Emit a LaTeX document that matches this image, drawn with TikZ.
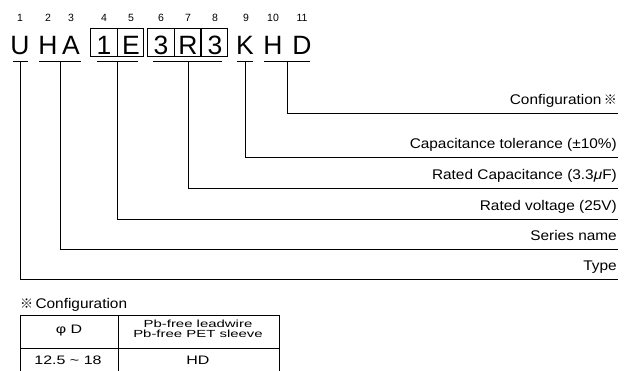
\documentclass[tikz,border=0pt]{standalone}
\usepackage{fontspec}
\setmainfont{Liberation Sans}
\newfontfamily\wideA[FakeStretch=1.1]{Liberation Sans}
\newfontfamily\wideB[FakeStretch=1.3]{Liberation Sans}
\newfontfamily\wideC[FakeStretch=1.45]{Liberation Sans}
\newfontfamily\cjk{Noto Sans CJK JP}
\begin{document}
\begin{tikzpicture}[x=1pt,y=-1pt,
  num/.style={font=\fontsize{10.5}{12}\selectfont, inner sep=0pt},
  big/.style={font=\fontsize{26.5}{30}\selectfont, inner sep=0pt, anchor=base},
  cbox/.style={draw, line width=0.8pt, minimum width=26.5pt, minimum height=28pt, inner sep=0pt},
  lbl/.style={font=\wideA\fontsize{14}{16}\selectfont, inner sep=0pt, anchor=base east},
  pb/.style={font=\wideC\fontsize{10.3}{10}\selectfont, inner sep=0pt, anchor=base},
  cell/.style={font=\wideB\fontsize{12.3}{14}\selectfont, inner sep=0pt},
  ln/.style={line width=1pt},
  tb/.style={line width=0.9pt}]
\useasboundingbox (0,0) rectangle (634,370);
\clip (0,0) rectangle (634,370);
% numbers
\foreach \i/\x in {1/20,2/48,3/71,4/104,5/131,6/161,7/188,8/215,9/246,10/273,11/302}
  \node[num] (n\i) at (\x,18) {\i};
% letters
\node[big] (cU) at (20,54) {U};
\node[big] (cH) at (48,54) {H};
\node[big] (cA) at (71,54) {A};
\node[cbox] (b4) at (104,42) {};
\node[cbox] (b5) at (130.5,42) {};
\node[cbox] (b6) at (161,42) {};
\node[cbox] (b7) at (187.5,42) {};
\node[cbox] (b8) at (214.5,42) {};
\node[big] (c4) at (104,54) {1};
\node[big] (c5) at (131,54) {E};
\node[big] (c6) at (161,54) {3};
\node[big] (c7) at (188,54) {R};
\node[big] (c8) at (215,54) {3};
\node[big] (cK) at (245,54) {K};
\node[big] (cH2) at (273,54) {H};
\node[big] (cD) at (302,54) {D};
% bars
\coordinate (bUl) at (13,61); \coordinate (bUr) at (28,61);
\coordinate (bHAl) at (39,61); \coordinate (bHAr) at (81,61);
\coordinate (b1El) at (97,61); \coordinate (b1Er) at (138,61);
\coordinate (b3l) at (153,61); \coordinate (b3r) at (222,61);
\coordinate (bKl) at (237,61); \coordinate (bKr) at (253,61);
\coordinate (bHDl) at (264,61); \coordinate (bHDr) at (310,61);
\foreach \a in {U,HA,1E,3,K,HD} \draw[ln] (b\a l) -- (b\a r);
\coordinate (tU) at (20,61);
\coordinate (tHA) at (60,61);
\coordinate (t1E) at (117,61);
\coordinate (t3) at (188,61);
\coordinate (tK) at (245,61);
\coordinate (tHD) at (287,61);
% line ends
\coordinate (eConf) at (618,113);
\coordinate (eTol) at (618,157);
\coordinate (eCap) at (618,188);
\coordinate (eVol) at (618,219);
\coordinate (eSer) at (618,249);
\coordinate (eTyp) at (618,279);
\draw[ln] (tHD) |- (eConf);
\draw[ln] (tK) |- (eTol);
\draw[ln] (t3) |- (eCap);
\draw[ln] (t1E) |- (eVol);
\draw[ln] (tHA) |- (eSer);
\draw[ln] (tU) |- (eTyp);
% labels
\node[lbl] (lConf) at (617,104) {Configuration\,{\cjk\fontsize{13}{15}\selectfont ※}};
\node[lbl] (lTol) at (617,148) {Capacitance tolerance (±10\%)};
\node[lbl] (lCap) at (617,179) {Rated Capacitance (3.3\textit{μ}F)};
\node[lbl] (lVol) at (617,210) {Rated voltage (25V)};
\node[lbl] (lSer) at (617,240) {Series name};
\node[lbl] (lTyp) at (617,270) {Type};
% config table
\node[font=\wideA\fontsize{14}{16}\selectfont, inner sep=0pt, anchor=base west] (ct) at (20,308) {{\cjk\fontsize{13}{15}\selectfont ※}\,Configuration};
\draw[tb] (20,372) -- (20,315) -- (279,315) -- (279,372);
\draw[tb] (118,315) -- (118,372);
\draw[tb] (20,348) -- (279,348);
\node[cell] (tphi) at (69,331) {φ D};
\node[pb] (tpb1) at (198,327) {Pb-free leadwire};
\node[pb] (tpb2) at (198,337.5) {Pb-free PET sleeve};
\node[cell] (tdim) at (68,360) {12.5 \textasciitilde{} 18};
\node[cell] (thd) at (198,360) {HD};
\end{tikzpicture}
\end{document}
